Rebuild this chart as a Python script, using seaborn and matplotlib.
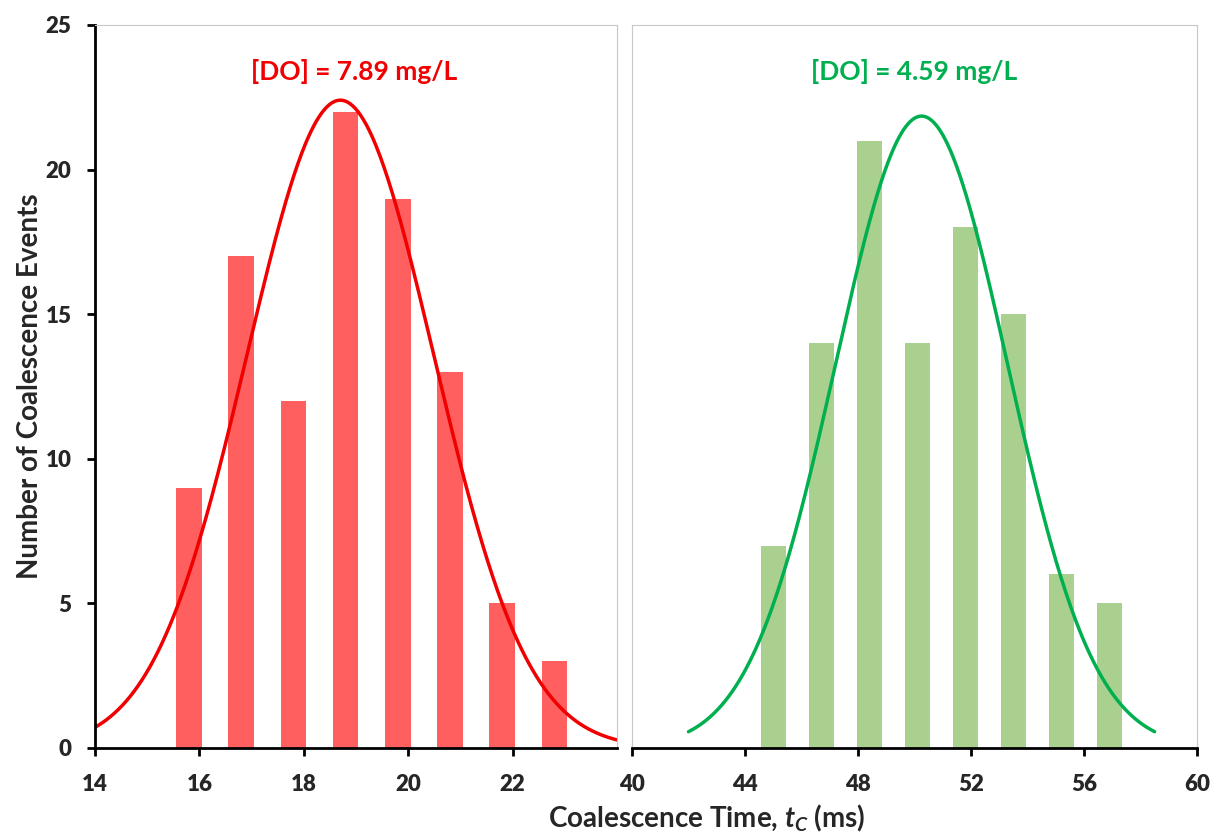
import numpy as np
import matplotlib
matplotlib.use("Agg")
import matplotlib.pyplot as plt
import seaborn as sns

# Coalescence-time histograms (bin centre in ms, number of events)
high_do_time = [15.8, 16.8, 17.8, 18.8, 19.8, 20.8, 21.8, 22.8]
high_do_count = [9, 17, 12, 22, 19, 13, 5, 3]
low_do_time = [45.0, 46.7, 48.4, 50.1, 51.8, 53.5, 55.2, 56.9]
low_do_count = [7, 14, 21, 14, 18, 15, 6, 5]

# Normal-distribution fits: peak height, mean, standard deviation, drawn range
high_fit_peak, high_fit_mean, high_fit_sd = 22.4, 18.7, 1.79
high_fit_range = (14.0, 24.0)
low_fit_peak, low_fit_mean, low_fit_sd = 21.85, 50.25, 3.05
low_fit_range = (42.0, 58.5)

high_label = "[DO] = 7.89 mg/L"
low_label = "[DO] = 4.59 mg/L"
high_ticks = [14, 16, 18, 20, 22]
low_ticks = [40, 44, 48, 52, 56, 60]
count_ticks = [0, 5, 10, 15, 20, 25]

sns.set_theme(style="white")
plt.rcParams["font.family"] = ["Lato", "DejaVu Sans"]
plt.rcParams["font.weight"] = "bold"
plt.rcParams["mathtext.fontset"] = "custom"
plt.rcParams["mathtext.rm"] = "Lato:bold"
plt.rcParams["mathtext.it"] = "Lato:italic:bold"
plt.rcParams["mathtext.bf"] = "Lato:bold"

RED_BAR, RED_LINE = "#FF5F5F", "#F00000"
GREEN_BAR, GREEN_LINE = "#A9D08E", "#00B050"
FRAME = "#C8C8C8"
TICK_WEIGHT = "heavy"

W, H = 1211, 834
fig = plt.figure(figsize=(W / 100, H / 100), dpi=100)
ax1 = fig.add_axes([95 / W, (H - 748) / H, 522 / W, 723 / H])
ax2 = fig.add_axes([632 / W, (H - 748) / H, 565 / W, 723 / H])


def gauss(peak, mean, sd, lo, hi):
    xs = np.linspace(lo, hi, 400)
    return xs, peak * np.exp(-0.5 * ((xs - mean) / sd) ** 2)


sns.barplot(x=high_do_time, y=high_do_count, native_scale=True, orient="x",
            color=RED_BAR, saturation=1, width=0.49, errorbar=None,
            linewidth=0, ax=ax1)
xs, ys = gauss(high_fit_peak, high_fit_mean, high_fit_sd, *high_fit_range)
sns.lineplot(x=xs, y=ys, color=RED_LINE, linewidth=2.5, ax=ax1, legend=False)

sns.barplot(x=low_do_time, y=low_do_count, native_scale=True, orient="x",
            color=GREEN_BAR, saturation=1, width=0.53, errorbar=None,
            linewidth=0, ax=ax2)
xs, ys = gauss(low_fit_peak, low_fit_mean, low_fit_sd, *low_fit_range)
sns.lineplot(x=xs, y=ys, color=GREEN_LINE, linewidth=2.5, ax=ax2, legend=False)

for ax in (ax1, ax2):
    ax.set_ylim(0, 25)
    ax.set_xlabel("")
    ax.set_ylabel("")
    ax.spines["bottom"].set_color("black")
    ax.spines["bottom"].set_linewidth(2.0)
    for s in ("top", "right"):
        ax.spines[s].set_color(FRAME)
        ax.spines[s].set_linewidth(0.8)
    ax.tick_params(axis="x", bottom=True, direction="out", length=6,
                   width=2.0, color="black", labelsize=16, pad=13)

ax1.set_xlim(14, 24)
ax1.set_xticks(high_ticks)
ax1.set_yticks(count_ticks)
ax1.spines["left"].set_color("black")
ax1.spines["left"].set_linewidth(2.0)
ax1.tick_params(axis="y", left=True, direction="out", length=6, width=2.0,
                color="black", labelsize=16, pad=11)

ax2.set_xlim(40, 60)
ax2.set_xticks(low_ticks)
ax2.set_yticks([])
ax2.spines["left"].set_color(FRAME)
ax2.spines["left"].set_linewidth(0.8)

for ax in (ax1, ax2):
    for lab in ax.get_xticklabels() + ax.get_yticklabels():
        lab.set_fontweight(TICK_WEIGHT)

fig.text(354 / W, 1 - 72 / H, high_label, color=RED_LINE, fontsize=19,
         fontweight="bold", ha="center", va="center")
fig.text(914 / W, 1 - 72 / H, low_label, color=GREEN_LINE, fontsize=19,
         fontweight="bold", ha="center", va="center")

fig.text(30 / W, 1 - 386 / H, "Number of Coalescence Events", rotation=90,
         fontsize=20, fontweight="bold", ha="center", va="center")
fig.text(707 / W, 1 - 818 / H, r"Coalescence Time, $t_C$ (ms)",
         fontsize=20, fontweight="bold", ha="center", va="center")

fig.savefig("out.png", dpi=100)
